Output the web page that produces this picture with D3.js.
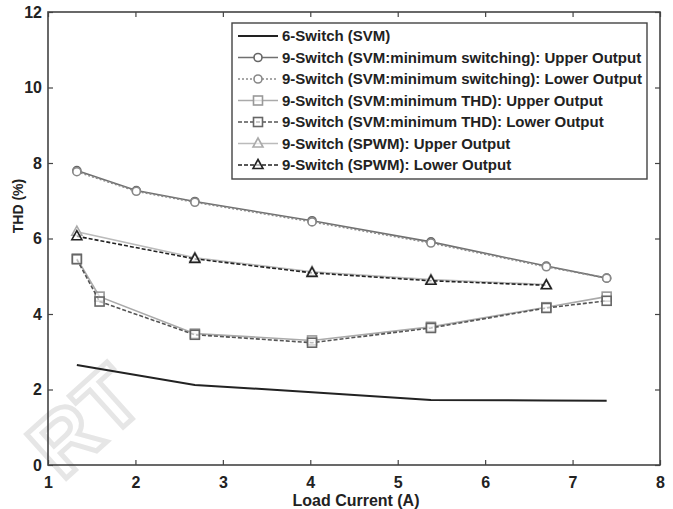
<!DOCTYPE html>
<meta charset="utf-8">
<html>
<head>
  <script src="https://d3js.org/d3.v7.min.js"></script>
  <style>
    body { margin: 0; background: #fff; }
    text { font-family: "Liberation Sans", Arial, sans-serif; font-weight: bold; }
  </style>
</head>
<body>
<div id="chart"></div>
<script>

// data
var loadCurrent = [1.33, 2.01, 2.68, 4.02, 5.38, 6.7, 7.39];
var loadCurrentB = [1.33, 1.59, 2.68, 4.02, 5.38, 6.7, 7.39];
var loadCurrentC = [1.33, 2.68, 4.02, 5.38, 6.7];
var loadCurrentD = [1.33, 2.68, 4.02, 5.38, 6.7, 7.39];

var sixSwitch = [2.65, 2.12, 1.93, 1.72, 1.71, 1.70];
var minSwUpper = [7.80, 7.27, 6.98, 6.47, 5.91, 5.27, 4.95];
var minSwLower = [7.77, 7.25, 6.96, 6.44, 5.88, 5.25, 4.95];
var minThdUpper = [5.47, 4.46, 3.48, 3.30, 3.66, 4.18, 4.46];
var minThdLower = [5.45, 4.33, 3.45, 3.24, 3.63, 4.16, 4.35];
var spwmUpper = [6.18, 5.49, 5.12, 4.91, 4.78];
var spwmLower = [6.06, 5.46, 5.09, 4.88, 4.76];

var xTicks = [1, 2, 3, 4, 5, 6, 7, 8];
var yTicks = [0, 2, 4, 6, 8, 10, 12];

var series = [
  {name: "6-Switch (SVM)", xs: loadCurrentD, ys: sixSwitch, color: "#222", dash: null, marker: null, mcolor: null},
  {name: "9-Switch (SVM:minimum switching): Upper Output", xs: loadCurrent, ys: minSwUpper, color: "#707070", dash: null, marker: "circle", mcolor: "#666"},
  {name: "9-Switch (SVM:minimum switching): Lower Output", xs: loadCurrent, ys: minSwLower, color: "#8a8a8a", dash: "2,2", marker: "circle", mcolor: "#888"},
  {name: "9-Switch (SVM:minimum THD): Upper Output", xs: loadCurrentB, ys: minThdUpper, color: "#aaa", dash: null, marker: "square", mcolor: "#999"},
  {name: "9-Switch (SVM:minimum THD): Lower Output", xs: loadCurrentB, ys: minThdLower, color: "#555", dash: "4,2", marker: "square", mcolor: "#666"},
  {name: "9-Switch (SPWM): Upper Output", xs: loadCurrentC, ys: spwmUpper, color: "#bbb", dash: null, marker: "triangle", mcolor: "#aaa"},
  {name: "9-Switch (SPWM): Lower Output", xs: loadCurrentC, ys: spwmLower, color: "#222", dash: "4,2", marker: "triangle", mcolor: "#222"}
];

var W = 673, H = 509;
var margin = {top: 12, right: 13, bottom: 44, left: 48};
var width = W - margin.left - margin.right,
    height = H - margin.top - margin.bottom;

var svg = d3.select("#chart").append("svg")
    .attr("width", W).attr("height", H);

// faint watermark in the corner
svg.append("text")
  .attr("transform", "translate(62,482)rotate(-42)")
  .attr("font-size", 86)
  .attr("fill", "none")
  .attr("stroke", "#e6e6e6")
  .attr("stroke-width", 5)
  .text("RT");

var g = svg.append("g")
  .attr("transform", "translate(" + margin.left + "," + margin.top + ")");

var x = d3.scaleLinear().domain([1, 8]).range([0, width]);
var y = d3.scaleLinear().domain([0, 12]).range([height, 0]);

// axes, MATLAB box style with inward ticks
function styleAxis(sel) {
  sel.select(".domain").remove();
  sel.selectAll("line").attr("stroke", "#444").attr("stroke-width", 1.2);
  sel.selectAll("text").attr("font-size", 16).attr("fill", "#222");
}
g.append("g").attr("transform", "translate(0," + height + ")")
  .call(d3.axisBottom(x).tickValues(xTicks).tickFormat(d3.format("d")).tickSizeInner(-5).tickSizeOuter(0).tickPadding(12))
  .call(styleAxis);
g.append("g")
  .call(d3.axisLeft(y).tickValues(yTicks).tickSizeInner(-5).tickSizeOuter(0).tickPadding(6))
  .call(styleAxis);
g.append("g")
  .call(d3.axisTop(x).tickValues(xTicks).tickSizeInner(-5).tickSizeOuter(0).tickFormat(""))
  .call(styleAxis);
g.append("g").attr("transform", "translate(" + width + ",0)")
  .call(d3.axisRight(y).tickValues(yTicks).tickSizeInner(-5).tickSizeOuter(0).tickFormat(""))
  .call(styleAxis);

g.append("rect")
  .attr("width", width).attr("height", height)
  .attr("fill", "none").attr("stroke", "#444").attr("stroke-width", 1.6);

// labels
g.append("text")
  .attr("x", width / 2 + 2).attr("y", height + 41)
  .attr("text-anchor", "middle").attr("font-size", 16).attr("fill", "#222")
  .attr("textLength", 127).attr("lengthAdjust", "spacingAndGlyphs")
  .text("Load Current (A)");
g.append("text")
  .attr("transform", "translate(-25," + (206 - margin.top) + ")rotate(-90)")
  .attr("text-anchor", "middle").attr("font-size", 14).attr("fill", "#222")
  .text("THD (%)");

function drawMarker(sel, type, color) {
  if (type === "circle") {
    sel.append("circle").attr("r", 4).attr("fill", "#fff")
      .attr("stroke", color).attr("stroke-width", 1.6);
  } else if (type === "square") {
    sel.append("rect").attr("x", -4.5).attr("y", -4.5).attr("width", 9).attr("height", 9)
      .attr("fill", "#fff").attr("fill-opacity", 0.6).attr("stroke", color).attr("stroke-width", 1.6);
  } else if (type === "triangle") {
    sel.append("path").attr("d", "M0,-5.5L5,3.5L-5,3.5Z").attr("fill", "#fff").attr("fill-opacity", 0.6)
      .attr("stroke", color).attr("stroke-width", 1.6);
  }
}

var line = d3.line().x(function(d) { return x(d[0]); }).y(function(d) { return y(d[1]); });

series.forEach(function(s) {
  var pts = s.xs.map(function(v, i) { return [v, s.ys[i]]; });
  g.append("path").datum(pts)
    .attr("d", line)
    .attr("fill", "none")
    .attr("stroke", s.color)
    .attr("stroke-width", s.marker ? 1.6 : 2)
    .attr("stroke-dasharray", s.dash);
  if (s.marker) {
    g.selectAll(null).data(pts).enter().append("g")
      .attr("transform", function(d) { return "translate(" + x(d[0]) + "," + y(d[1]) + ")"; })
      .each(function() { drawMarker(d3.select(this), s.marker, s.mcolor); });
  }
});

// legend
var lg = svg.append("g").attr("transform", "translate(232,23)");
lg.append("rect").attr("width", 415).attr("height", 156)
  .attr("fill", "#fff").attr("stroke", "#444").attr("stroke-width", 1.4);
series.forEach(function(s, i) {
  var row = lg.append("g").attr("transform", "translate(0," + (13 + i * 21.5) + ")");
  row.append("line").attr("x1", 6).attr("x2", 46)
    .attr("stroke", s.color).attr("stroke-width", s.marker ? 1.6 : 2)
    .attr("stroke-dasharray", s.dash);
  if (s.marker) {
    var m = row.append("g").attr("transform", "translate(26,0)");
    drawMarker(m, s.marker, s.mcolor);
  }
  row.append("text").attr("x", 50).attr("y", 5)
    .attr("font-size", 15).attr("fill", "#222")
    .text(s.name);
});

</script>
</body>
</html>
